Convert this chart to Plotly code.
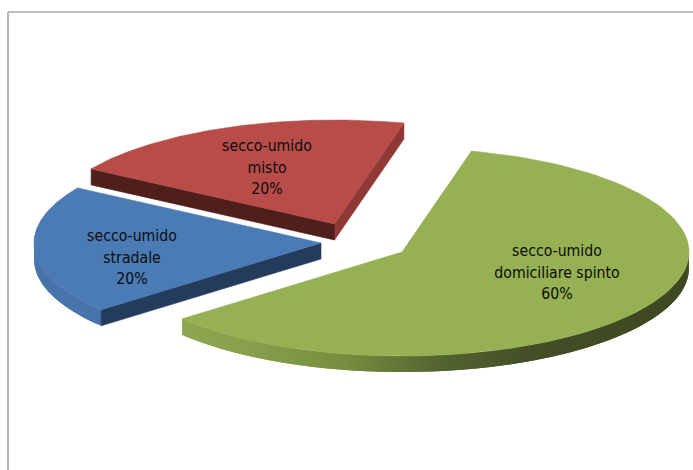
import math
import plotly.graph_objects as go

# Data
categories = ["secco-umido stradale", "secco-umido misto", "secco-umido domiciliare spinto"]
values = [20, 20, 60]

# Drawing parameters (pixel space of the 693x470 picture)
START_DEG = 140.0           # where the first slice begins, clockwise on screen
RX, RY, DEPTH = 287, 104, 16
APEX = [(321, 243), (334.5, 224), (402, 252)]
LABEL_POS = [(132, 259), (267, 169), (557, 274)]
LINE_PITCH = 21.5
TOP = ["#4A7BB5", "#B74C48", "#95B153"]
WALL_STOPS = [
    [(0.0, (70, 116, 171)), (1.0, (70, 116, 171))],
    [(0.0, (79, 31, 28)), (1.0, (79, 31, 28))],
    [(0.0, (62, 72, 35)), (0.3, (66, 78, 38)), (0.48, (84, 99, 49)),
     (0.67, (118, 143, 63)), (0.85, (135, 160, 75)), (1.0, (142, 168, 82))],
]
FACE_COLORS = {0: ["#243B5C"], 1: ["#4F1F1C", "#8F3937"]}


def pt(apex, deg, dy=0):
    t = math.radians(deg)
    return apex[0] + RX * math.cos(t), apex[1] + RY * math.sin(t) + dy


def lerp_stops(stops, f):
    for (a, ca), (b, cb) in zip(stops, stops[1:]):
        if f <= b:
            k = 0 if b == a else (f - a) / (b - a)
            c = [round(x + (y - x) * k) for x, y in zip(ca, cb)]
            return "rgb(%d,%d,%d)" % tuple(c)
    return "rgb(%d,%d,%d)" % stops[-1][1]


def poly(fig, pts, color, outline=0.6):
    xs = [p[0] for p in pts] + [pts[0][0]]
    ys = [p[1] for p in pts] + [pts[0][1]]
    fig.add_trace(go.Scatter(x=xs, y=ys, mode="lines", fill="toself", fillcolor=color,
                             line=dict(color=color, width=outline), hoverinfo="skip", showlegend=False))


fig = go.Figure()
total = sum(values)
angle = START_DEG
spans = []
for v in values:
    spans.append((angle, angle + 360 * v / total))
    angle += 360 * v / total

for i, (a0, a1) in enumerate(spans):
    apex = APEX[i]
    # outer wall, as overlapping strips so that no seams show
    steps = round(a1 - a0)
    for s in range(steps):
        d0 = a0 + (a1 - a0) * s / steps
        d1 = a0 + (a1 - a0) * min(steps, s + 2) / steps
        mid = math.radians(a0 + (a1 - a0) * (s + 0.5) / steps)
        if math.sin(mid) <= -0.05:
            continue
        f = (1 - math.cos(mid)) / 2
        col = lerp_stops(WALL_STOPS[i], min(1, f / 0.9))
        poly(fig, [pt(apex, d0), pt(apex, d1), pt(apex, d1, DEPTH), pt(apex, d0, DEPTH)], col, outline=0)
    # radial cut faces
    if i == 0:
        e = pt(apex, a0)
        poly(fig, [apex, e, (e[0], e[1] + DEPTH), (apex[0], apex[1] + DEPTH)], FACE_COLORS[0][0])
    if i == 1:
        e = pt(apex, a1)
        poly(fig, [apex, e, (e[0], e[1] + DEPTH), (apex[0], apex[1] + DEPTH)], FACE_COLORS[1][1])
        e = pt(apex, a0)
        poly(fig, [apex, e, (e[0], e[1] + DEPTH), (apex[0], apex[1] + DEPTH)], FACE_COLORS[1][0])
    # top surface
    n = 120
    top = [apex] + [pt(apex, a0 + (a1 - a0) * k / n) for k in range(n + 1)]
    poly(fig, top, TOP[i])

# Labels: three lines each, placed one by one to hold the reference's line pitch
lx, ly, lt = [], [], []
for c, v, (x, y) in zip(categories, values, LABEL_POS):
    first, rest = c.split(" ", 1)
    for k, line in enumerate((first, rest, f"{round(100 * v / total)}%")):
        lx.append(x)
        ly.append(y + (k - 1) * LINE_PITCH)
        lt.append(line)
fig.add_trace(go.Scatter(x=lx, y=ly, mode="text", text=lt, textposition="middle center",
                         textfont=dict(family="DejaVu Sans Condensed, DejaVu Sans", size=15.7, color="#0c0c0c"),
                         hoverinfo="skip", showlegend=False))

# Frame, running off the right and bottom of the picture
frame = dict(type="line", line=dict(color="#A6A6A6", width=1.6), xref="x", yref="y")
fig.update_layout(
    width=693, height=470, margin=dict(l=0, r=0, t=0, b=0),
    paper_bgcolor="white", plot_bgcolor="white", showlegend=False,
    xaxis=dict(range=[0, 693], visible=False, fixedrange=True),
    yaxis=dict(range=[470, 0], visible=False, fixedrange=True),
    shapes=[dict(frame, x0=8, y0=12, x1=693, y1=12), dict(frame, x0=8, y0=12, x1=8, y1=470)],
)
fig.write_html("out.html", post_script="document.body.style.margin='0';document.documentElement.style.overflow='hidden';",
               config=dict(displayModeBar=False))
